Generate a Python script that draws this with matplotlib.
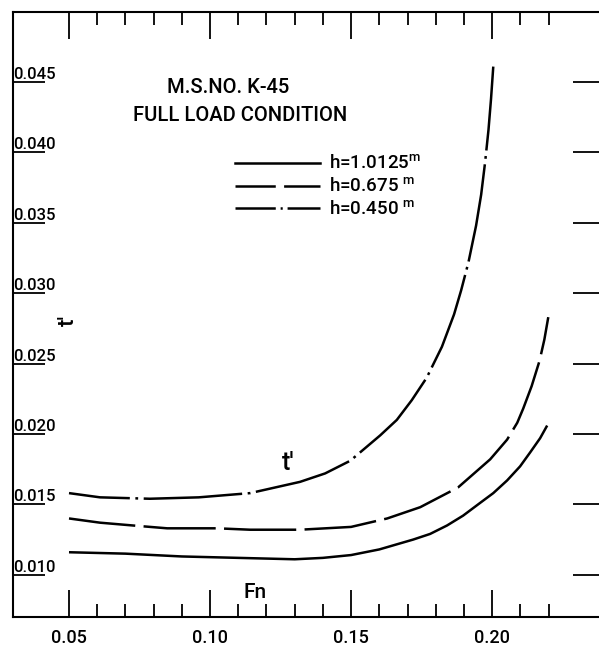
import matplotlib
matplotlib.use("Agg")
import matplotlib.pyplot as plt
from matplotlib.lines import Line2D
from matplotlib.ticker import FixedLocator

plt.rcParams['font.family'] = ['Roboto', 'DejaVu Sans']
plt.rcParams['font.weight'] = 'medium'
plt.rcParams['lines.scale_dashes'] = False
plt.rcParams['mathtext.fontset'] = 'custom'
plt.rcParams['mathtext.rm'] = 'Roboto:medium'

# ---- data ----
fn_h10125 = [0.05, 0.07, 0.09, 0.11, 0.13, 0.14, 0.15, 0.16, 0.172, 0.178, 0.184, 0.1897, 0.1957,
             0.2004, 0.2053, 0.2099, 0.2135, 0.2170, 0.2195]
t_h10125 = [0.0116, 0.0115, 0.0113, 0.0112, 0.0111, 0.0112, 0.0114, 0.0118, 0.0125, 0.0129, 0.0135, 0.0142, 0.0151,
            0.0158, 0.0167, 0.0177, 0.0187, 0.0197, 0.0206]

fn_h0675 = [0.05, 0.061, 0.0727, 0.0848, 0.1025, 0.1142, 0.1319, 0.15, 0.1628, 0.1745, 0.1879,
            0.1993, 0.2053, 0.2089, 0.2110, 0.2140, 0.2168, 0.2185, 0.2199]
t_h0675 = [0.0140, 0.0137, 0.0135, 0.0133, 0.0133, 0.0132, 0.0132, 0.0134, 0.0140, 0.0148, 0.0162,
           0.0182, 0.0196, 0.0208, 0.0218, 0.0234, 0.0252, 0.0267, 0.0283]

fn_h0450 = [0.05, 0.061, 0.0787, 0.0960, 0.1142, 0.1319, 0.1408, 0.1497, 0.1603, 0.1662, 0.1715,
            0.1768, 0.1822, 0.1865, 0.1890, 0.1916, 0.1943, 0.1961, 0.1975, 0.1987, 0.1996, 0.2004]
t_h0450 = [0.0158, 0.0155, 0.0154, 0.0155, 0.0158, 0.0166, 0.0172, 0.0181, 0.0199, 0.0210, 0.0224,
           0.0240, 0.0262, 0.0285, 0.0302, 0.0322, 0.0348, 0.0370, 0.0393, 0.0416, 0.0438, 0.0461]

labels = ["h=1.0125$^{\\mathrm{m}}$", "h=0.675 $^{\\mathrm{m}}$", "h=0.450 $^{\\mathrm{m}}$"]

x_major = [0.05, 0.10, 0.15, 0.20]
x_major_labels = ["0.05", "0.10", "0.15", "0.20"]
x_minor = [0.06, 0.07, 0.08, 0.09, 0.11, 0.12, 0.13, 0.14, 0.16, 0.17, 0.18, 0.19, 0.21, 0.22]
y_major = [0.010, 0.015, 0.020, 0.025, 0.030, 0.035, 0.040, 0.045]
y_major_labels = ["0.010", "0.015", "0.020", "0.025", "0.030", "0.035", "0.040", "0.045"]

# ---- figure ----
fig = plt.figure(figsize=(5.99, 6.46), dpi=100)
ax = fig.add_axes([0.021, 0.0449, 0.989, 0.937])
ax.set_xlim(0.03, 0.24)
ax.set_ylim(0.007, 0.050)

lw = 1.8
ax.plot(fn_h10125, t_h10125, color='black', lw=lw, solid_capstyle='butt', solid_joinstyle='round')
ax.plot(fn_h0675, t_h0675, color='black', lw=lw, linestyle=(4, (52, 6)), dash_joinstyle='round')
ax.plot(fn_h0450, t_h0450, color='black', lw=lw, linestyle=(27, (71, 4, 2, 4)), dash_joinstyle='round')

for s in ax.spines.values():
    s.set_linewidth(1.5)

ax.xaxis.set_major_locator(FixedLocator(x_major))
ax.xaxis.set_minor_locator(FixedLocator(x_minor))
ax.set_xticklabels(x_major_labels)
ax.yaxis.set_major_locator(FixedLocator(y_major))
ax.set_yticklabels(y_major_labels)

ax.tick_params(axis='x', which='major', direction='in', top=True, bottom=True,
               length=19.5, width=1.3, labelsize=13, pad=9)
ax.tick_params(axis='x', which='minor', direction='in', top=True, bottom=True,
               length=9.5, width=1.3)
ax.tick_params(axis='y', which='major', direction='in', left=True, right=True,
               length=23, width=1.3, labelsize=12, pad=-0.5)
plt.setp(ax.get_yticklabels(), ha='left', va='bottom')

# annotations
ax.text(0.364, 0.874, "M.S.NO. K-45", transform=ax.transAxes, ha='center', va='center', fontsize=14.5)
ax.text(0.384, 0.828, "FULL LOAD CONDITION", transform=ax.transAxes, ha='center', va='center', fontsize=14.5)
ax.text(0.465, 0.254, "t'", transform=ax.transAxes, ha='center', va='center', fontsize=18)
ax.text(0.409, 0.040, "Fn", transform=ax.transAxes, ha='center', va='center', fontsize=15)
ax.text(0.0935, 0.49, "t'", transform=ax.transAxes, ha='center', va='center', fontsize=16, rotation=90)

handles = [
    Line2D([], [], color='black', lw=lw),
    Line2D([], [], color='black', lw=lw, linestyle=(0, (29, 6))),
    Line2D([], [], color='black', lw=lw, linestyle=(0, (29, 3.5, 1.5, 3.5))),
]
ax.legend(handles, labels, loc='upper left', bbox_to_anchor=(0.3754, 0.764), frameon=False,
          borderpad=0, borderaxespad=0, handlelength=4.55, handletextpad=0.45,
          labelspacing=0.22, fontsize=13.5)

fig.savefig("out.png", dpi=100)
